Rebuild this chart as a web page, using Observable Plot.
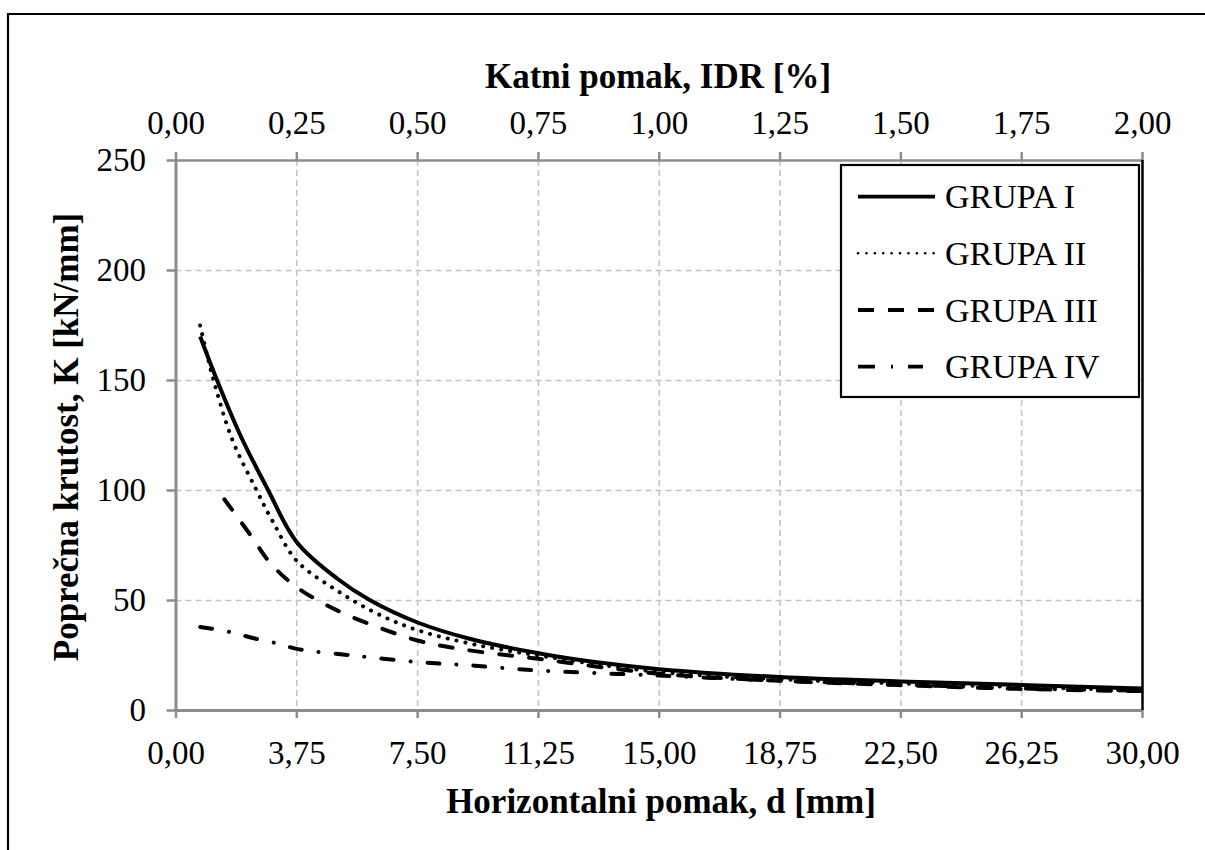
<!DOCTYPE html>
<html>
<head>
<meta charset="utf-8">
<script src="https://cdn.jsdelivr.net/npm/d3@7"></script>
<script src="https://cdn.jsdelivr.net/npm/@observablehq/plot@0.6"></script>
<style>
  html, body { margin: 0; padding: 0; background: white; overflow: hidden; }
  #chart { position: relative; width: 1205px; height: 850px; }
</style>
</head>
<body>
<div id="chart"></div>
<script>
// ---- Data ----
const xTicks = [0, 3.75, 7.5, 11.25, 15, 18.75, 22.5, 26.25, 30];
const xTickLabels = ["0,00", "3,75", "7,50", "11,25", "15,00", "18,75", "22,50", "26,25", "30,00"];
const idrLabels = ["0,00", "0,25", "0,50", "0,75", "1,00", "1,25", "1,50", "1,75", "2,00"];
const yTicks = [0, 50, 100, 150, 200, 250];

const titleTop = "Katni pomak, IDR [%]";
const titleBottom = "Horizontalni pomak, d [mm]";
const titleLeft = "Poprečna krutost, K [kN/mm]";

const seriesNames = ["GRUPA I", "GRUPA II", "GRUPA III", "GRUPA IV"];

const dispI = [0.75, 1.25, 2.0, 2.83, 3.75, 5, 6.04, 7.5, 9.14, 11.25, 13, 15, 18.75, 22.5, 26.25, 30];
const kI    = [170, 151, 125, 101, 76.5, 60, 50, 40, 32.5, 26, 22, 18.8, 15.2, 13.2, 11.6, 10];

const dispII = [0.75, 1.15, 1.75, 2.47, 3.0, 3.75, 5, 6.25, 7.5, 9.14, 11.25, 15, 18.75, 22.5, 26.25, 30];
const kII    = [175, 151, 123, 101, 86, 68, 54.5, 44, 36.5, 30.4, 25, 17.5, 14.2, 12.3, 10.6, 9.3];

const dispIII = [1.5, 2.3, 2.93, 3.75, 5, 6.25, 7.5, 8.8, 11.25, 15, 18.75, 22.5, 26.25, 30];
const kIII    = [96, 80, 67, 56, 45.5, 38, 31.8, 28, 23.5, 16.7, 13.5, 11.5, 9.8, 8.8];

const dispIV = [0.75, 1.7, 2.45, 3.2, 3.75, 5.5, 7.5, 9.14, 11.25, 15, 18.75, 22.5, 26.25, 30];
const kIV    = [38, 35.6, 32.7, 30.3, 28, 25, 22, 20.5, 18.2, 15.9, 13.5, 11.8, 10, 9];

const toRows = (xs, ks) => xs.map((d, i) => ({d, k: ks[i]}));
const rows = [toRows(dispI, kI), toRows(dispII, kII), toRows(dispIII, kIII), toRows(dispIV, kIV)];

// ---- Styles ----
const lineStyles = [
  {strokeWidth: 4, strokeDasharray: null, strokeLinecap: "butt"},
  {strokeWidth: 4, strokeDasharray: "0.1 9", strokeLinecap: "round"},
  {strokeWidth: 4, strokeDasharray: "13 17", strokeLinecap: "round"},
  {strokeWidth: 4, strokeDasharray: "12 17 0.1 17", strokeLinecap: "round"}
];
const legendDash = [null, "0.1 8.3", "16 14", "17 16 2 15 15 100"];
const legendCap = ["butt", "round", "butt", "butt"];
const legendWidth = [3.8, 2.6, 3.8, 3.8];

const gridColor = "#c4c4c4";
const axisColor = "#8c8c8c";
const fontFam = "'Liberation Serif', 'Times New Roman', serif";

const plot = Plot.plot({
  width: 1205,
  height: 850,
  marginLeft: 175.5,
  marginRight: 63,
  marginTop: 160,
  marginBottom: 140,
  style: {fontFamily: fontFam, fontSize: "33px", background: "white", color: "black", overflow: "visible"},
  x: {domain: [0, 30]},
  y: {domain: [0, 250]},
  marks: [
    Plot.gridX(xTicks.slice(1, -1), {stroke: gridColor, strokeOpacity: 1, strokeWidth: 1.6, strokeDasharray: "6 4"}),
    Plot.gridY(yTicks.slice(1, -1), {stroke: gridColor, strokeOpacity: 1, strokeWidth: 1.6, strokeDasharray: "6 4"}),
    Plot.ruleY([250], {stroke: axisColor, strokeWidth: 2.5}),
    Plot.ruleX([0], {stroke: axisColor, strokeWidth: 3}),
    Plot.ruleY([0], {stroke: axisColor, strokeWidth: 3}),
    Plot.axisX(xTicks, {anchor: "bottom", tickSize: 8, tickPadding: 22, stroke: axisColor, strokeWidth: 2.5, tickFormat: d => xTickLabels[xTicks.indexOf(d)], label: null, fill: "black"}),
    Plot.axisX(xTicks, {anchor: "top", tickSize: 9, tickPadding: 18, stroke: axisColor, strokeWidth: 2.5, tickFormat: d => idrLabels[xTicks.indexOf(d)], label: null, fill: "black"}),
    Plot.axisY(yTicks, {anchor: "left", tickSize: 9, tickPadding: 21, stroke: axisColor, strokeWidth: 2.5, tickFormat: d => String(d), label: null, fill: "black"}),
    ...rows.map((r, i) => Plot.line(r, {x: "d", y: "k", curve: "catmull-rom", stroke: "black", ...lineStyles[i]})),
    Plot.ruleX([30], {stroke: "black", strokeWidth: 2.5})
  ]
});

document.getElementById("chart").appendChild(plot);

const svg = d3.select(plot);

// ---- Axis titles ----
svg.append("text").attr("x", 658).attr("y", 88).attr("text-anchor", "middle")
  .attr("font-weight", "bold").attr("font-size", 35).attr("font-family", fontFam).attr("fill", "black").text(titleTop);
svg.append("text").attr("x", 661).attr("y", 813).attr("text-anchor", "middle")
  .attr("font-weight", "bold").attr("font-size", 35).attr("font-family", fontFam).attr("fill", "black").text(titleBottom);
svg.append("text").attr("transform", "translate(78,437) rotate(-90)").attr("text-anchor", "middle")
  .attr("font-weight", "bold").attr("font-size", 35).attr("font-family", fontFam).attr("fill", "black").text(titleLeft);

// ---- Outer border (top and left edges visible) ----
svg.append("path")
  .attr("d", "M8,860 L8,14 L1215,14")
  .attr("fill", "none").attr("stroke", "black").attr("stroke-width", 2.2);

// ---- Legend ----
const lg = svg.append("g");
lg.append("rect").attr("x", 841).attr("y", 165).attr("width", 298).attr("height", 232)
  .attr("fill", "white").attr("stroke", "black").attr("stroke-width", 2.2);
const rowY = [196.7, 253.3, 310, 366.7];
seriesNames.forEach((name, i) => {
  const ln = lg.append("line").attr("x1", 858).attr("x2", 935).attr("y1", rowY[i]).attr("y2", rowY[i])
    .attr("stroke", "black").attr("stroke-width", legendWidth[i])
    .attr("stroke-linecap", legendCap[i]);
  if (legendDash[i]) ln.attr("stroke-dasharray", legendDash[i]);
  lg.append("text").attr("x", 945).attr("y", rowY[i] + 11.7).attr("text-anchor", "start")
    .attr("font-size", 34).attr("font-family", fontFam).attr("fill", "black").text(name);
});
</script>
</body>
</html>
